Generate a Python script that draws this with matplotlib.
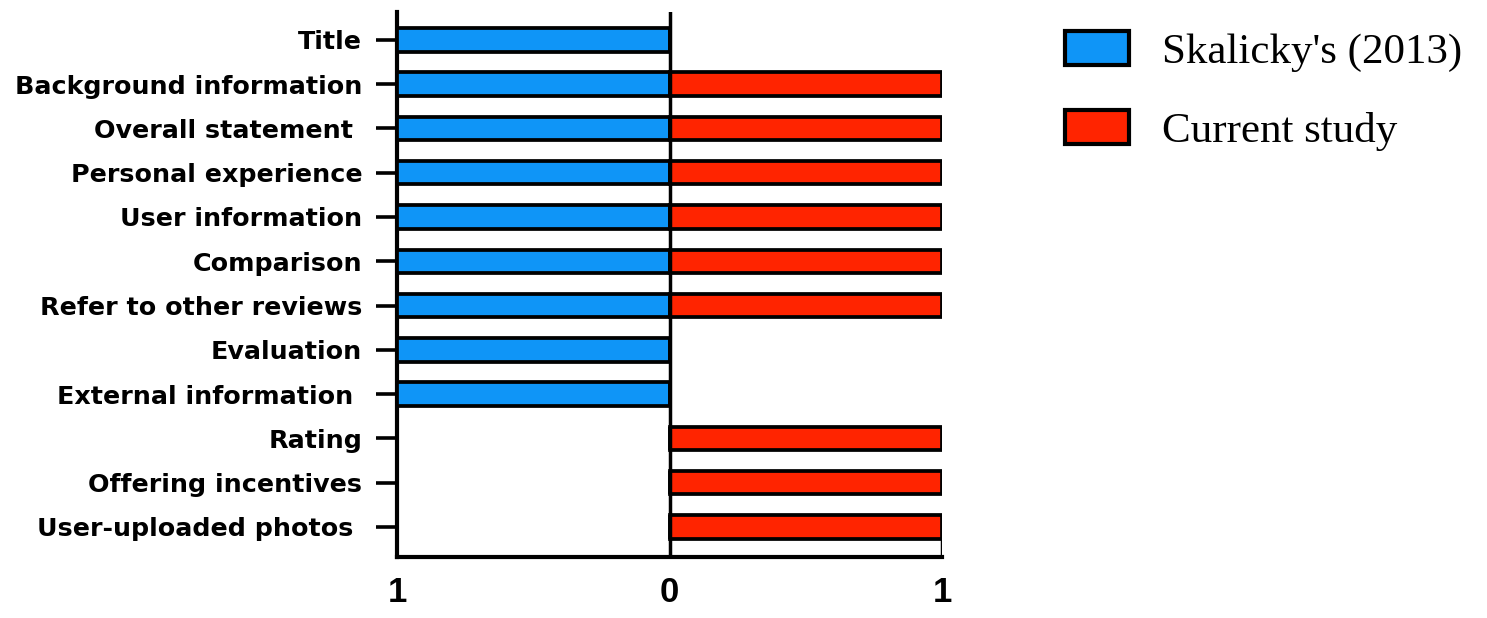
import matplotlib
matplotlib.use("Agg")
import matplotlib.pyplot as plt
import numpy as np
from matplotlib.patches import Patch

categories = ["Title", "Background information", "Overall statement ", "Personal experience",
              "User information", "Comparison", "Refer to other reviews", "Evaluation",
              "External information ", "Rating", "Offering incentives", "User-uploaded photos "]
skalicky = [1, 1, 1, 1, 1, 1, 1, 1, 1, 0, 0, 0]
current = [0, 1, 1, 1, 1, 1, 1, 0, 0, 1, 1, 1]
xtick_vals = [-1, 0, 1]
xtick_labels = ["1", "0", "1"]
series_names = ["Skalicky's (2013)", "Current study"]

blue = "#0F95F7"
red = "#FF2400"

fig = plt.figure(figsize=(14.87, 6.18), dpi=100)
ax = fig.add_axes([0.267, 0.0987, 0.3665, 0.8819])

y = np.arange(len(categories))
h = 0.53
lw = 2.7
ax.barh(y, [-v for v in skalicky], height=h, color=blue, edgecolor="black", linewidth=lw, zorder=3)
ax.barh(y, current, height=h, color=red, edgecolor="black", linewidth=lw, zorder=3)

ax.set_ylim(len(categories) - 1 + 0.68, -0.63)
ax.set_xlim(-1, 1)
ax.axvline(0, color="black", linewidth=2.5, zorder=4)
# small right edge segment below last bar
ax.vlines(1, len(categories) - 1 + h / 2, len(categories) - 1 + 0.68, color="black", linewidth=2.5)

ax.set_yticks(y)
ax.set_yticklabels(categories, fontfamily="DejaVu Sans", fontweight="bold", fontsize=18.3)
ax.set_xticks(xtick_vals)
ax.set_xticklabels(xtick_labels, fontfamily="Liberation Sans", fontweight="bold", fontsize=25)

ax.tick_params(axis="y", length=15, width=2.6, pad=10)
ax.tick_params(axis="x", length=0, pad=14)
for s in ["top", "right"]:
    ax.spines[s].set_visible(False)
for s in ["left", "bottom"]:
    ax.spines[s].set_linewidth(3)

handles = [Patch(facecolor=blue, edgecolor="black", linewidth=3),
           Patch(facecolor=red, edgecolor="black", linewidth=3)]
fig.legend(handles, series_names, loc="upper left", bbox_to_anchor=(0.69, 1.013),
           frameon=False, prop={"family": "Liberation Serif", "size": 31},
           handlelength=1.5, handleheight=0.85, labelspacing=0.88, handletextpad=0.75)

fig.savefig("out.png", dpi=100)
